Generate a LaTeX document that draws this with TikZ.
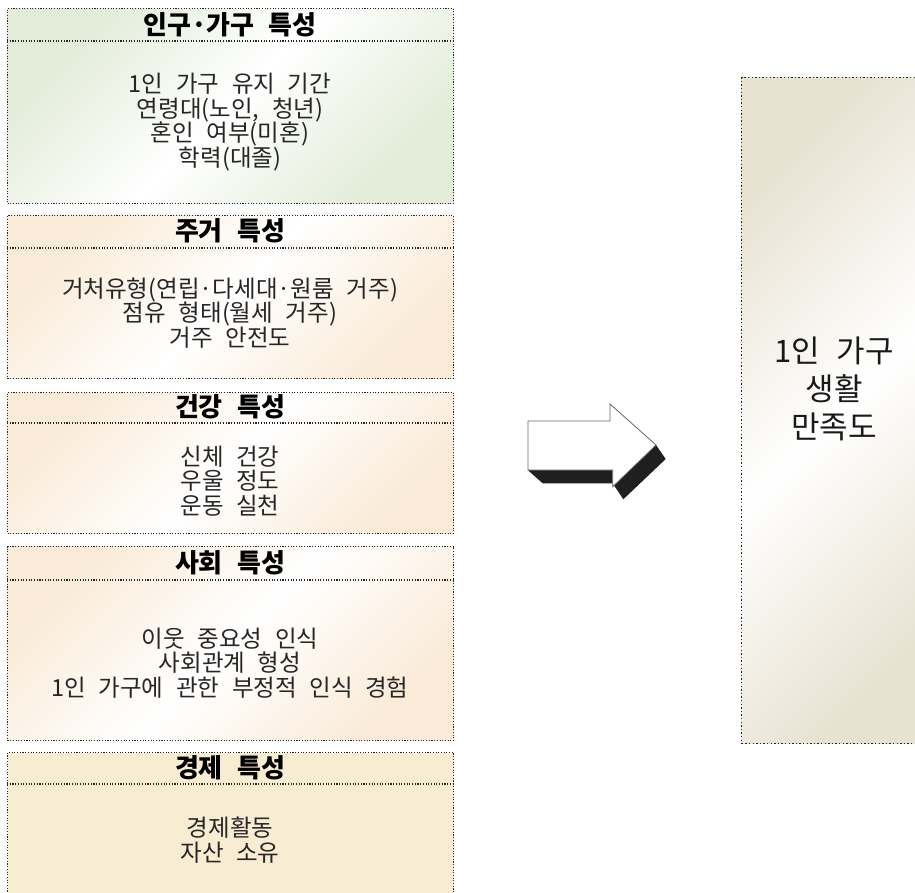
\documentclass[tikz,border=0pt]{standalone}
\usepackage{fontspec}
\setmainfont[WordSpace=2.4]{Noto Sans CJK KR}
\begin{document}
\begin{tikzpicture}[x=1pt,y=-1pt,
  frame/.style={draw=black!85, line width=1.1pt, dash pattern=on 1.1pt off 1.6pt, inner sep=0pt, anchor=north west},
  sep/.style={draw=black!85, line width=1.1pt, dash pattern=on 1.1pt off 1.6pt},
  greenfill/.style={left color=grn, right color=grn, middle color=white, shading angle=45},
  peachfill/.style={left color=pch, right color=pch, middle color=white, shading angle=45},
  hdr/.style={font=\fontsize{26}{28}\selectfont\bfseries, text=black, inner sep=0pt},
  body/.style={font=\fontsize{23.5}{24.5}\selectfont, text=black!85, align=center, inner sep=0pt},
  big/.style={font=\fontsize{31}{38}\selectfont, text=black!90, align=center, inner sep=0pt}
]
\definecolor{grn}{HTML}{E2ECD8}
\definecolor{pch}{HTML}{FAEBD8}
\definecolor{wht}{HTML}{F8ECD2}
\definecolor{rgt}{HTML}{E8E2D2}
\clip (0,0) rectangle (915,893);
\fill[white] (0,0) rectangle (915,893);

% box 1
\node[frame, greenfill, minimum width=446pt, minimum height=195pt] (b1) at (7,8) {};
\draw[sep] ([yshift=-33pt]b1.north west) -- ([yshift=-33pt]b1.north east);
\node[hdr] (h1) at (230,25) {인구·가구 특성};
\node[body] (t1) at (230,122) {1인 가구 유지 기간\\연령대(노인, 청년)\\혼인 여부(미혼)\\학력(대졸)};

% box 2
\node[frame, peachfill, minimum width=446pt, minimum height=163pt] (b2) at (7,215) {};
\draw[sep] ([yshift=-33pt]b2.north west) -- ([yshift=-33pt]b2.north east);
\node[hdr] (h2) at (230,231) {주거 특성};
\node[body] (t2) at (230,313) {거처유형(연립·다세대·원룸 거주)\\점유 형태(월세 거주)\\거주 안전도};

% box 3
\node[frame, peachfill, minimum width=446pt, minimum height=141pt] (b3) at (7,392) {};
\draw[sep] ([yshift=-31pt]b3.north west) -- ([yshift=-31pt]b3.north east);
\node[hdr] (h3) at (230,407) {건강 특성};
\node[body] (t3) at (230,481) {신체 건강\\우울 정도\\운동 실천};

% box 4
\node[frame, peachfill, minimum width=446pt, minimum height=194pt] (b4) at (7,546) {};
\draw[sep] ([yshift=-34pt]b4.north west) -- ([yshift=-34pt]b4.north east);
\node[hdr] (h4) at (230,563) {사회 특성};
\node[body] (t4) at (230,663) {이웃 중요성 인식\\사회관계 형성\\1인 가구에 관한 부정적 인식 경험};

% box 5
\node[frame, fill=wht, minimum width=446pt, minimum height=150pt] (b5) at (7,752) {};
\draw[sep] ([yshift=-32pt]b5.north west) -- ([yshift=-32pt]b5.north east);
\node[hdr] (h5) at (230,768) {경제 특성};
\node[body] (t5) at (230,840) {경제활동\\자산 소유};

% right box
\node[frame, left color=rgt, right color=rgt, middle color=white, shading angle=45,
      line width=1.4pt, dash pattern=on 1.4pt off 2.2pt,
      minimum width=200pt, minimum height=666pt] (r) at (741,77) {};
\node[big] (rt) at (834,389) {1인 가구\\생활\\만족도};

% block arrow with shadow
\fill[black!88] (527.7,470) -- (542.7,483.3) -- (612.7,483.3) -- (623.3,499.3) -- (665.7,459) -- (656,445) -- (612.7,486.7) -- (612.7,470) -- cycle;
\draw[fill=white, draw=black!60, line width=0.8pt] (528,421) -- (610,421) -- (610,404) -- (656,445) -- (612.7,486.7) -- (612.7,470) -- (528,470) -- cycle;
\end{tikzpicture}
\end{document}
